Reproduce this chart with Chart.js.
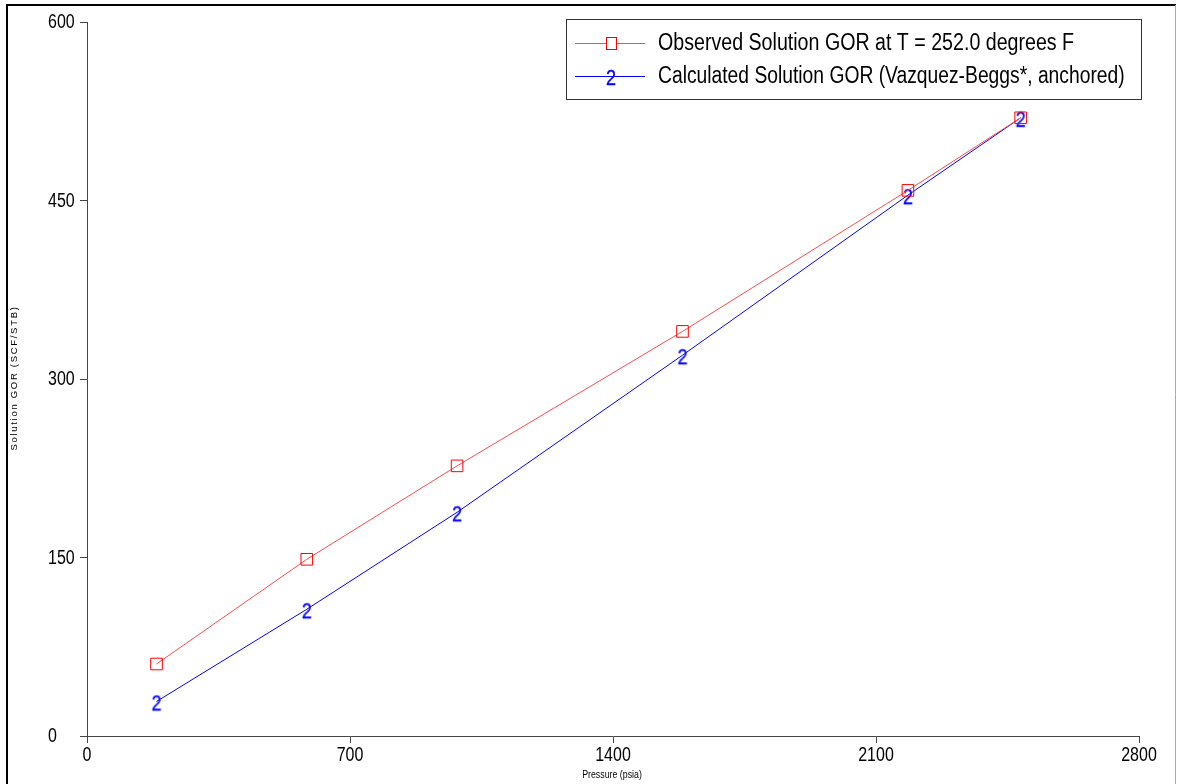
<!DOCTYPE html>
<html><head><meta charset="utf-8">
<script src="https://cdn.jsdelivr.net/npm/chart.js@4"></script>
<style>html,body{margin:0;padding:0;background:#fff}#wrap{position:relative;width:1178px;height:784px}</style>
</head><body><div id="wrap"><canvas id="c" width="1178" height="784"></canvas></div>
<script>
const pressure = [185, 585, 985, 1585, 2185, 2485];
const observedGOR = [60.5, 148.5, 227, 340, 458.5, 519.5];
const calculatedGOR = [29, 106.5, 188, 320, 454.5, 519.5];
const seriesLabels = ['Observed Solution GOR at T = 252.0 degrees F', 'Calculated Solution GOR (Vazquez-Beggs*, anchored)'];
const xTitle = 'Pressure (psia)';
const yTitle = 'Solution GOR (SCF/STB)';

const FONT = '"Liberation Sans", Arial, sans-serif';
const NARROW = 0.82;

function narrowText(ctx, text, x, y, k) {
  ctx.save();
  ctx.translate(x, y);
  ctx.scale(k, 1);
  ctx.fillText(text, 0, 0);
  ctx.restore();
}

function makeTwo() {
  const c = document.createElement('canvas');
  c.width = 16; c.height = 28;
  const g = c.getContext('2d');
  g.fillStyle = '#0000ff';
  g.strokeStyle = '#0000ff';
  g.lineWidth = 0.3;
  g.font = '22px ' + FONT;
  g.textAlign = 'center';
  g.textBaseline = 'middle';
  g.translate(8, 16.5);
  g.scale(NARROW, 1);
  g.fillText('2', 0, 0);
  g.strokeText('2', 0, 0);
  return c;
}
const twoMark = makeTwo();

const framePlugin = {
  id: 'frame',
  afterDraw(chart) {
    const ctx = chart.ctx;
    ctx.save();
    // outer frame
    ctx.strokeStyle = '#000'; ctx.lineWidth = 2;
    ctx.beginPath(); ctx.moveTo(7, 784); ctx.lineTo(7, 5); ctx.lineTo(1176, 5); ctx.stroke();
    ctx.strokeStyle = '#aaa'; ctx.lineWidth = 1;
    ctx.beginPath(); ctx.moveTo(1175.5, 5); ctx.lineTo(1175.5, 784); ctx.stroke();

    // tick labels
    ctx.fillStyle = '#000';
    ctx.font = '19.5px ' + FONT;
    const xs = chart.scales.x, ys = chart.scales.y;
    ctx.textAlign = 'center'; ctx.textBaseline = 'top';
    xs.ticks.forEach(t => narrowText(ctx, String(t.value), xs.getPixelForValue(t.value), 746, NARROW));
    ctx.textAlign = 'left'; ctx.textBaseline = 'middle';
    ys.ticks.forEach(t => narrowText(ctx, String(t.value), 48, ys.getPixelForValue(t.value) + 1, NARROW));

    // legend
    ctx.fillStyle = '#fff';
    ctx.fillRect(566, 19, 575, 80);
    ctx.strokeStyle = '#333'; ctx.lineWidth = 1;
    ctx.strokeRect(566.5, 19.5, 575, 80);
    const rows = [43, 76];
    ctx.strokeStyle = '#ff4a4a';
    ctx.beginPath(); ctx.moveTo(575, rows[0] + 0.5); ctx.lineTo(645, rows[0] + 0.5); ctx.stroke();
    ctx.strokeStyle = '#ff0000';
    ctx.fillStyle = '#fff';
    ctx.fillRect(606.5, rows[0] - 5.5, 10, 12);
    ctx.strokeRect(606.5, rows[0] - 5.5, 10, 12);
    ctx.strokeStyle = '#0000ff';
    ctx.beginPath(); ctx.moveTo(575, rows[1] + 0.5); ctx.lineTo(645, rows[1] + 0.5); ctx.stroke();
    ctx.drawImage(twoMark, 611 - 8, rows[1] - 14);
    ctx.fillStyle = '#000';
    ctx.font = '23.5px ' + FONT;
    ctx.textBaseline = 'middle';
    ctx.textAlign = 'left';
    narrowText(ctx, chart.data.datasets[0].label, 658, rows[0] + 1, 0.835);
    narrowText(ctx, chart.data.datasets[1].label, 658, rows[1] + 1, NARROW);

    // axis titles
    ctx.font = '11px ' + FONT;
    ctx.textAlign = 'center';
    ctx.textBaseline = 'middle';
    narrowText(ctx, xTitle, 612, 775, 0.8);
    ctx.translate(14, 378);
    ctx.rotate(-Math.PI / 2);
    ctx.font = '9.5px ' + FONT;
    try { ctx.letterSpacing = '1.7px'; } catch (e) {}
    ctx.fillText(yTitle, 0, 0);
    ctx.restore();
  }
};

new Chart(document.getElementById('c'), {
  type: 'line',
  data: {
    datasets: [
      {
        label: seriesLabels[0],
        data: pressure.map((p, i) => ({ x: p, y: observedGOR[i] })),
        borderColor: '#ff4a4a',
        borderWidth: 1,
        pointStyle: 'rect',
        pointRadius: 8.2,
        pointBorderColor: '#ff0000',
        pointBackgroundColor: 'rgba(0,0,0,0)',
        pointBorderWidth: 1,
        tension: 0
      },
      {
        label: seriesLabels[1],
        data: pressure.map((p, i) => ({ x: p, y: calculatedGOR[i] })),
        borderColor: '#0000ff',
        borderWidth: 1,
        pointStyle: twoMark,
        tension: 0
      }
    ]
  },
  options: {
    responsive: false,
    animation: false,
    devicePixelRatio: 1,
    layout: { padding: { left: 0, right: 39, top: 22, bottom: 0 } },
    plugins: { legend: { display: false }, tooltip: { enabled: false } },
    scales: {
      x: {
        type: 'linear', min: 0, max: 2800,
        ticks: { stepSize: 700, color: 'rgba(0,0,0,0)', font: { family: FONT, size: 19 }, padding: 1, maxRotation: 0, callback: v => String(v) },
        grid: { display: true, drawOnChartArea: false, tickLength: 7, color: '#444' },
        border: { color: '#444', width: 1 },
        afterFit(s) { s.height = 48; }
      },
      y: {
        type: 'linear', min: 0, max: 600,
        ticks: { stepSize: 150, color: 'rgba(0,0,0,0)', font: { family: FONT, size: 19 }, padding: 5, callback: v => String(v) },
        grid: { display: true, drawOnChartArea: false, tickLength: 7, color: '#444' },
        border: { color: '#444', width: 1 },
        afterFit(s) { s.width = 87; }
      }
    }
  },
  plugins: [framePlugin]
});
</script></body></html>
